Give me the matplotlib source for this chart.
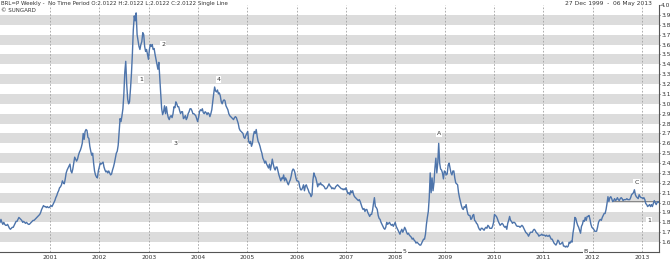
import matplotlib
matplotlib.use("Agg")
import matplotlib.pyplot as plt
import numpy as np
import pandas as pd

# weekly closes BRL=P (one list per year)
w2000 = [1.80, 1.83, 1.80, 1.78, 1.80, 1.78, 1.77, 1.77, 1.78, 1.76, 1.74, 1.73, 1.74,
         1.75, 1.75, 1.77, 1.79, 1.81, 1.81, 1.83, 1.85, 1.84, 1.83, 1.82, 1.80, 1.81,
         1.80, 1.79, 1.80, 1.79, 1.78, 1.78, 1.79, 1.80, 1.81, 1.82, 1.82, 1.83, 1.84,
         1.85, 1.86, 1.87, 1.88, 1.90, 1.93, 1.95, 1.97, 1.96, 1.96, 1.95, 1.96, 1.95]
w2001 = [1.95, 1.96, 1.97, 1.96, 1.98, 2.00, 2.02, 2.05, 2.07, 2.10, 2.12, 2.15, 2.16,
         2.18, 2.22, 2.20, 2.19, 2.24, 2.30, 2.33, 2.35, 2.37, 2.39, 2.32, 2.30, 2.34,
         2.40, 2.46, 2.44, 2.42, 2.44, 2.48, 2.51, 2.53, 2.56, 2.60, 2.70, 2.64, 2.72,
         2.74, 2.73, 2.66, 2.65, 2.57, 2.52, 2.48, 2.50, 2.40, 2.32, 2.28, 2.26, 2.25]
w2002 = [2.32, 2.36, 2.40, 2.39, 2.40, 2.41, 2.36, 2.33, 2.31, 2.32, 2.30, 2.32, 2.30,
         2.28, 2.29, 2.33, 2.36, 2.40, 2.45, 2.50, 2.52, 2.58, 2.72, 2.85, 2.82, 2.88,
         2.95, 3.10, 3.32, 3.43, 3.20, 3.05, 3.00, 3.02, 3.15, 3.30, 3.50, 3.75, 3.89,
         3.84, 3.92, 3.70, 3.64, 3.58, 3.55, 3.60, 3.63, 3.72, 3.70, 3.58, 3.53, 3.55]
w2003 = [3.50, 3.45, 3.55, 3.60, 3.58, 3.60, 3.55, 3.56, 3.50, 3.45, 3.40, 3.35, 3.42,
         3.25, 3.10, 2.95, 2.89, 2.92, 2.98, 2.90, 2.97, 2.90, 2.86, 2.84, 2.87, 2.88,
         2.86, 2.90, 2.97, 2.96, 3.02, 3.00, 2.97, 2.97, 2.93, 2.90, 2.92, 2.92, 2.85,
         2.86, 2.88, 2.84, 2.86, 2.90, 2.92, 2.95, 2.95, 2.93, 2.90, 2.90, 2.89, 2.88]
w2004 = [2.85, 2.82, 2.86, 2.92, 2.94, 2.93, 2.95, 2.91, 2.90, 2.92, 2.91, 2.89, 2.91,
         2.90, 2.87, 2.90, 2.94, 3.02, 3.10, 3.17, 3.13, 3.12, 3.14, 3.10, 3.11, 3.08,
         3.02, 3.00, 3.03, 3.04, 3.03, 2.98, 2.96, 2.94, 2.90, 2.88, 2.87, 2.86, 2.85,
         2.84, 2.86, 2.87, 2.86, 2.83, 2.80, 2.75, 2.73, 2.72, 2.71, 2.70, 2.66, 2.65]
w2005 = [2.68, 2.70, 2.72, 2.62, 2.60, 2.62, 2.57, 2.60, 2.68, 2.72, 2.70, 2.74, 2.67,
         2.62, 2.60, 2.57, 2.53, 2.50, 2.45, 2.43, 2.40, 2.42, 2.39, 2.37, 2.35, 2.39,
         2.33, 2.38, 2.44, 2.39, 2.35, 2.33, 2.36, 2.36, 2.32, 2.28, 2.25, 2.22, 2.25,
         2.24, 2.28, 2.22, 2.25, 2.23, 2.20, 2.18, 2.21, 2.23, 2.27, 2.32, 2.34, 2.33]
w2006 = [2.30, 2.25, 2.22, 2.22, 2.21, 2.16, 2.13, 2.13, 2.15, 2.18, 2.12, 2.17, 2.18,
         2.15, 2.13, 2.10, 2.09, 2.06, 2.08, 2.23, 2.30, 2.27, 2.25, 2.21, 2.16, 2.19,
         2.18, 2.20, 2.18, 2.18, 2.17, 2.16, 2.14, 2.14, 2.15, 2.17, 2.19, 2.17, 2.16,
         2.14, 2.15, 2.14, 2.14, 2.16, 2.17, 2.18, 2.17, 2.16, 2.15, 2.14, 2.14, 2.13]
w2007 = [2.14, 2.13, 2.15, 2.12, 2.09, 2.10, 2.08, 2.12, 2.10, 2.12, 2.08, 2.06, 2.05,
         2.04, 2.03, 2.02, 2.03, 2.01, 1.98, 1.95, 1.93, 1.94, 1.91, 1.93, 1.93, 1.90,
         1.88, 1.86, 1.88, 1.88, 1.92, 1.99, 2.05, 1.96, 1.95, 1.93, 1.87, 1.84, 1.83,
         1.80, 1.78, 1.76, 1.74, 1.73, 1.75, 1.80, 1.78, 1.79, 1.80, 1.78, 1.77, 1.78]
w2008 = [1.76, 1.78, 1.80, 1.76, 1.74, 1.72, 1.70, 1.68, 1.71, 1.73, 1.70, 1.72, 1.75,
         1.73, 1.70, 1.68, 1.69, 1.67, 1.66, 1.65, 1.63, 1.64, 1.62, 1.61, 1.59, 1.60,
         1.59, 1.58, 1.57, 1.57, 1.59, 1.61, 1.63, 1.63, 1.68, 1.78, 1.85, 1.91, 2.05,
         2.30, 2.10, 2.25, 2.12, 2.20, 2.35, 2.45, 2.30, 2.40, 2.60, 2.40, 2.34, 2.33]
w2009 = [2.30, 2.24, 2.32, 2.31, 2.28, 2.29, 2.38, 2.40, 2.35, 2.30, 2.28, 2.32, 2.32,
         2.25, 2.20, 2.19, 2.18, 2.10, 2.05, 2.01, 1.97, 1.94, 1.93, 1.96, 1.95, 1.98,
         1.92, 1.88, 1.87, 1.87, 1.83, 1.84, 1.87, 1.88, 1.82, 1.81, 1.79, 1.78, 1.75,
         1.73, 1.72, 1.74, 1.74, 1.73, 1.72, 1.74, 1.75, 1.74, 1.77, 1.76, 1.74, 1.74]
w2010 = [1.74, 1.76, 1.80, 1.88, 1.87, 1.86, 1.84, 1.81, 1.79, 1.77, 1.78, 1.79, 1.78,
         1.76, 1.75, 1.76, 1.73, 1.79, 1.82, 1.86, 1.82, 1.81, 1.79, 1.80, 1.80, 1.79,
         1.77, 1.76, 1.76, 1.76, 1.75, 1.76, 1.77, 1.76, 1.74, 1.72, 1.70, 1.69, 1.68,
         1.66, 1.68, 1.70, 1.70, 1.70, 1.72, 1.73, 1.72, 1.70, 1.69, 1.68, 1.66, 1.67]
w2011 = [1.67, 1.68, 1.67, 1.67, 1.67, 1.66, 1.67, 1.66, 1.66, 1.67, 1.65, 1.63, 1.63,
         1.61, 1.59, 1.58, 1.57, 1.59, 1.62, 1.61, 1.58, 1.58, 1.59, 1.60, 1.56, 1.56,
         1.55, 1.56, 1.55, 1.56, 1.60, 1.59, 1.61, 1.60, 1.69, 1.75, 1.85, 1.84, 1.80,
         1.77, 1.75, 1.72, 1.69, 1.76, 1.78, 1.82, 1.81, 1.85, 1.82, 1.86, 1.86, 1.87]
w2012 = [1.83, 1.78, 1.75, 1.74, 1.73, 1.71, 1.71, 1.71, 1.75, 1.80, 1.82, 1.83, 1.82,
         1.85, 1.87, 1.89, 1.89, 1.93, 1.99, 2.06, 2.01, 2.05, 2.06, 2.04, 2.01, 2.02,
         2.04, 2.02, 2.03, 2.05, 2.03, 2.02, 2.04, 2.05, 2.04, 2.02, 2.03, 2.03, 2.03,
         2.04, 2.03, 2.03, 2.03, 2.05, 2.08, 2.09, 2.10, 2.13, 2.08, 2.06, 2.05, 2.04]
w2013 = [2.08, 2.06, 2.05, 2.05, 2.04, 2.05, 2.03, 1.99, 1.98, 1.96, 1.97, 1.98, 1.96,
         1.98, 1.96, 1.99, 2.02, 2.00, 1.98, 2.00, 2.01, 2.00, 2.01]

closes = (w2000 + w2001 + w2002 + w2003 + w2004 + w2005 + w2006 + w2007 + w2008
          + w2009 + w2010 + w2011 + w2012 + w2013)
dates = pd.date_range("1999-12-27", periods=len(closes), freq="7D")

years = list(range(2001, 2014))
y_ticks = [round(v, 1) for v in np.arange(1.6, 4.01, 0.1)]

# "Single Line" drawing at 2.0122
single_line_dates = ["2012-05-20", "2013-05-06"]
single_line_level = 2.0122

# wave labels
wave_dates = ["2002-11-05", "2003-04-20", "2003-07-15", "2004-06-01", "2008-03-10",
              "2008-11-20", "2011-11-10", "2012-11-20", "2013-02-20"]
wave_vals = [3.25, 3.60, 2.60, 3.25, 1.51, 2.70, 1.51, 2.20, 1.82]
wave_text = ["1", "2", "3", "4", "5", "A", "B", "C", "1"]

line_col = "#4d74ab"
txt_col = "#333333"

fig = plt.figure(figsize=(6.7, 2.61), dpi=100)
ax = fig.add_axes([0, 9 / 261, 659 / 670, 247 / 261])

for v in y_ticks[::2]:
    ax.axhspan(v, v + 0.1, color="#dcdcdc", lw=0, zorder=0)

ax.plot(dates, closes, color=line_col, lw=1.0, zorder=3)
ax.plot(pd.to_datetime(single_line_dates), [single_line_level] * 2, color="#666666",
        lw=0.5, zorder=2)

ax.set_ylim(1.5, 4.0)
ax.set_xlim(pd.Timestamp("1999-12-27"), pd.Timestamp("2013-05-06"))

ax.yaxis.tick_right()
ax.set_yticks(y_ticks)
ax.set_yticklabels([f"{v:.1f}" for v in y_ticks])
year_ts = [pd.Timestamp(f"{y}-01-01") for y in years]
ax.set_xticks(year_ts)
ax.set_xticklabels([str(y) for y in years])
ax.tick_params(axis="y", labelsize=4.3, length=1, pad=0.5, colors=txt_col, width=0.6)
ax.tick_params(axis="x", labelsize=4.3, length=0, pad=2, colors=txt_col)

for t in year_ts:
    ax.axvline(t, color="#a0a0a0", lw=0.6, ls=(0, (2, 2)), zorder=1)

for s in ["top", "left"]:
    ax.spines[s].set_visible(False)
ax.spines["bottom"].set_color("#555555")
ax.spines["right"].set_color("#555555")
ax.spines["bottom"].set_linewidth(0.8)
ax.spines["right"].set_linewidth(0.8)

for d, v, t in zip(wave_dates, wave_vals, wave_text):
    ax.text(pd.Timestamp(d), v, t, fontsize=4.5, color=txt_col, ha="center", va="center",
            zorder=4, bbox=dict(boxstyle="square,pad=0.15", fc="white", ec="none"))

fig.text(0.002, 0.995, "BRL=P Weekly -  No Time Period O:2.0122 H:2.0122 L:2.0122 C:2.0122 Single Line",
         fontsize=4.0, color=txt_col, ha="left", va="top")
fig.text(0.002, 0.968, "© SUNGARD", fontsize=4.0, color=txt_col, ha="left", va="top")
fig.text(0.973, 0.995, "27 Dec 1999  -  06 May 2013", fontsize=4.3, color=txt_col,
         ha="right", va="top")

fig.savefig("out.png", dpi=100)
